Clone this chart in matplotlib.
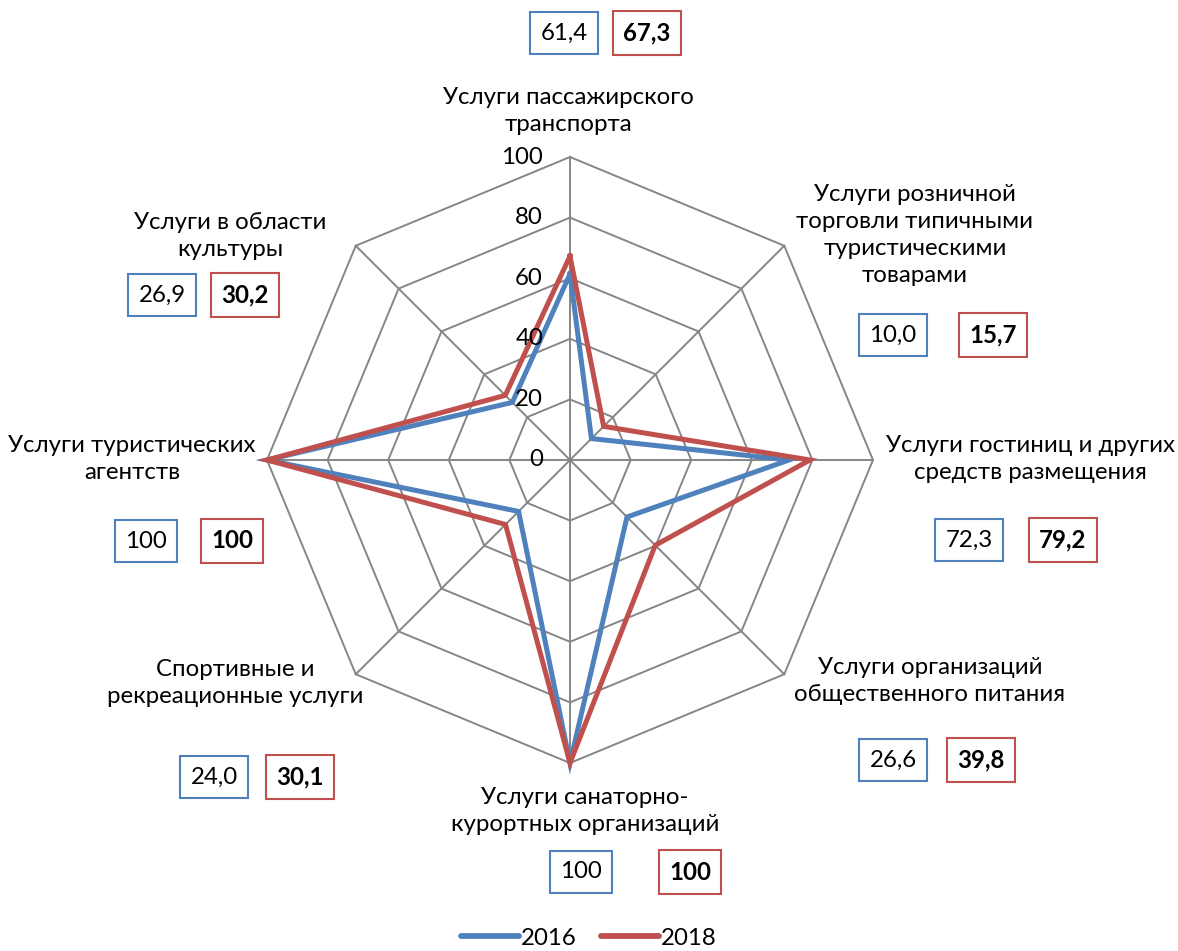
import numpy as np
import matplotlib.pyplot as plt

categories = ["Услуги пассажирского\nтранспорта",
              "Услуги розничной\nторговли типичными\nтуристическими\nтоварами",
              "Услуги гостиниц и других\nсредств размещения",
              "Услуги организаций\nобщественного питания",
              "Услуги санаторно-\nкурортных организаций",
              "Спортивные и\nрекреационные услуги",
              "Услуги туристических\nагентств",
              "Услуги в области\nкультуры"]
values_2016 = [61.4, 10.0, 72.3, 26.6, 100, 24.0, 100, 26.9]
values_2018 = [67.3, 15.7, 79.2, 39.8, 100, 30.1, 100, 30.2]
labels_2016 = ["61,4", "10,0", "72,3", "26,6", "100", "24,0", "100", "26,9"]
labels_2018 = ["67,3", "15,7", "79,2", "39,8", "100", "30,1", "100", "30,2"]
ticks = [0, 20, 40, 60, 80, 100]

blue = "#4F81BD"
red = "#C0504D"
grey = "#868686"
plt.rcParams['font.family'] = ['Lato', 'DejaVu Sans']
fs = 17.3

fig = plt.figure(figsize=(11.78, 9.51), dpi=100)
ax = fig.add_axes([0, 0, 1, 1])
ax.set_xlim(0, 1178)
ax.set_ylim(951, 0)
ax.axis('off')

cx, cy, scale = 570, 460, 3.03
n = len(categories)
ang = np.arange(n) * 2 * np.pi / n

def xy(vals):
    vals = np.asarray(vals, dtype=float)
    return cx + vals * scale * np.sin(ang), cy - vals * scale * np.cos(ang)

# grid
for t in ticks[1:]:
    gx, gy = xy([t] * n)
    ax.plot(np.append(gx, gx[0]), np.append(gy, gy[0]), color=grey, lw=1.4, zorder=1)
sx, sy = xy([100] * n)
for i in range(n):
    ax.plot([cx, sx[i]], [cy, sy[i]], color=grey, lw=1.4, zorder=1)
for t in ticks:
    ax.text(cx - 27, cy - t * scale, str(t), ha='right', va='center', fontsize=fs, zorder=3)

# series
for vals, col, lab in [(values_2016, blue, "2016"), (values_2018, red, "2018")]:
    px, py = xy(vals)
    ax.plot(np.append(px, px[0]), np.append(py, py[0]), color=col, lw=3.6,
            solid_joinstyle='miter', zorder=2, label=lab)

# category labels and value boxes (pixel positions)
label_pos = [(568, 111), (915, 235), (1030, 459), (930, 681),
             (585, 811), (235, 683), (132, 459), (230, 236)]
box_2016 = [(564, 33), (893, 335), (969, 540), (893, 760),
            (581, 872), (214, 777), (146, 541), (162, 295)]
box_2018 = [(647, 33), (993, 335), (1063, 540), (981, 760),
            (690, 872), (300, 777), (232, 541), (245, 295)]
for i in range(n):
    ax.text(*label_pos[i], categories[i], ha='center', va='center', fontsize=fs,
            linespacing=1.36)
    ax.text(*box_2016[i], labels_2016[i], ha='center', va='center', fontsize=fs,
            bbox=dict(boxstyle='square,pad=0.42', fc='white', ec=blue, lw=1.5))
    ax.text(*box_2018[i], labels_2018[i], ha='center', va='center', fontsize=fs,
            fontweight='bold',
            bbox=dict(boxstyle='square,pad=0.42', fc='white', ec=red, lw=1.5))

leg = ax.legend(loc='lower center', bbox_to_anchor=(0.5, 0.0), ncol=2, frameon=False,
                fontsize=fs, handlelength=2.4, handletextpad=0.1, columnspacing=1.0,
                borderaxespad=0.0, borderpad=0.1)
for h in leg.get_lines():
    h.set_linewidth(4.2)
    h.set_solid_capstyle('round')

fig.savefig("out.png", dpi=100)
